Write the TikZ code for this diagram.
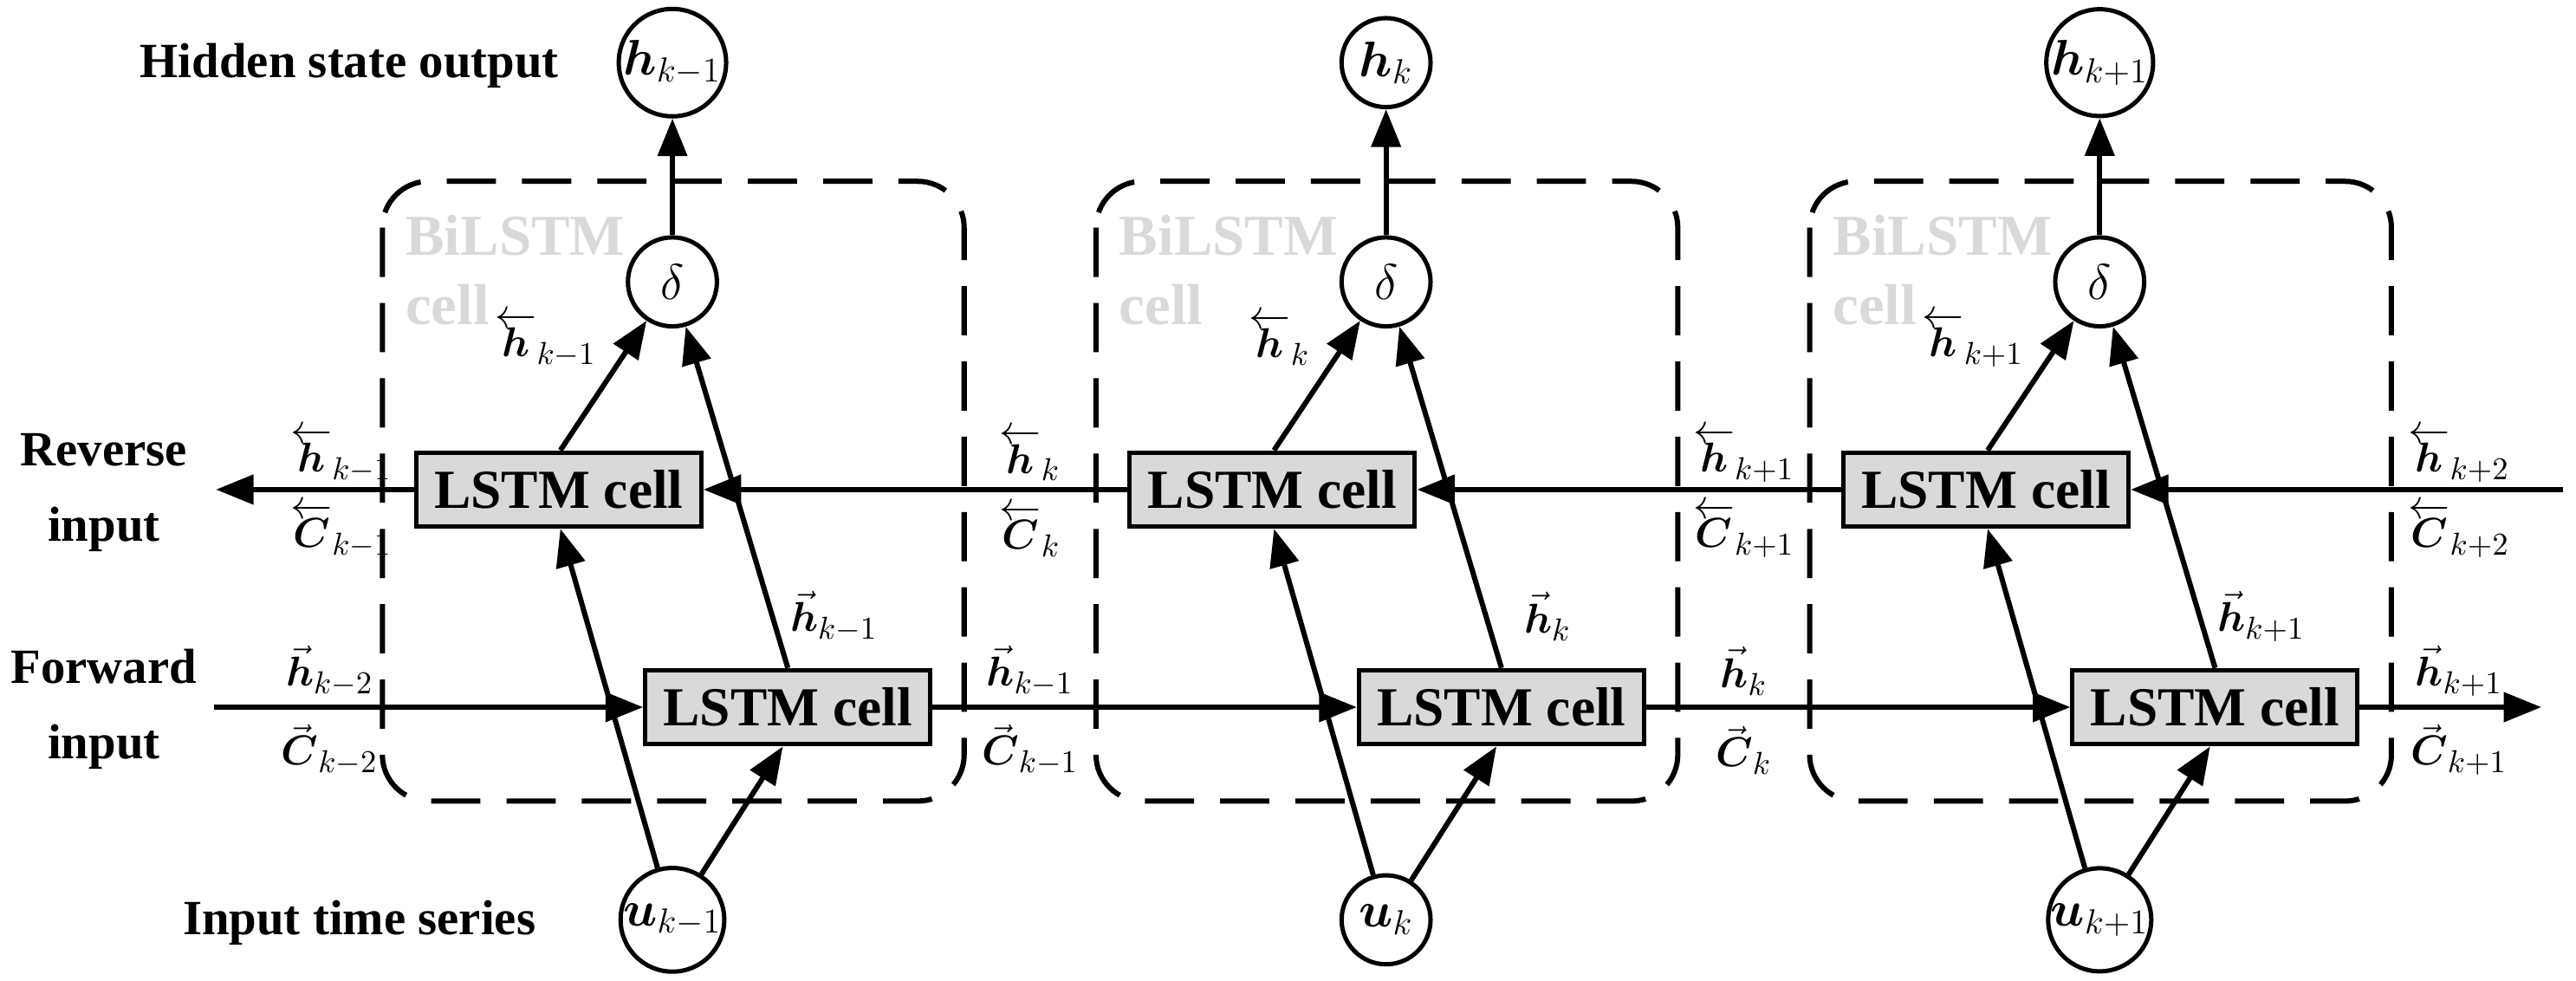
\documentclass[tikz,border=0pt]{standalone}
\usepackage{amsmath}
\usepackage{fontspec}
\setmainfont{Liberation Serif}
\usetikzlibrary{positioning,arrows.meta}
\definecolor{cellgray}{RGB}{217,217,217}
\newcommand{\hl}[1]{\overleftarrow{\boldsymbol{h}}_{#1}}
\newcommand{\hr}[1]{\vec{\boldsymbol{h}}_{#1}}
\newcommand{\cl}[1]{\overleftarrow{\boldsymbol{C}}_{#1}}
\newcommand{\cri}[1]{\vec{\boldsymbol{C}}_{#1}}

\begin{document}
\begin{tikzpicture}[x=0.02cm,y=-0.02cm,
	font=\fontsize{15}{17}\selectfont\bfseries,
	lstm/.style={draw, fill=cellgray, line width=1.5pt, minimum width=3.46cm, minimum height=0.9cm, font=\fontsize{19}{21}\selectfont\bfseries},
	var/.style={draw, circle, line width=1.5pt, minimum size=1.08cm, inner sep=0pt, fill=white, font=\fontsize{17}{19}\selectfont},
	link/.style={line width=1.8pt, -{Triangle[length=13pt,width=10pt]}},
	bibox/.style={draw, line width=1.8pt, dash pattern=on 17pt off 9pt, rounded corners=16pt},
	lab/.style={font=\fontsize{15}{17}\selectfont},
	caption/.style={align=center, font=\fontsize{17}{26}\selectfont\bfseries}]
  \useasboundingbox (0,0) rectangle (1563,595);

  % three BiLSTM cells
  \foreach \i/\s in {0/{k-1},1/{k},2/{k+1}} {
    \begin{scope}[xshift=\i*433*0.02cm]
      \draw[bibox] (232,110) rectangle (585,486);
      \node[text=cellgray, anchor=north west, align=left, font=\fontsize{20}{24}\selectfont\bfseries] at (240,124) {BiLSTM\\cell};
      \node[lstm] (rev\i) at (339,297) {LSTM cell};
      \node[lstm] (fwd\i) at (478,429) {LSTM cell};
      \node[var] (del\i) at (408,171) {$\delta$};
      \node[var] (out\i) at (408,38) {$\boldsymbol{h}_{\s}$};
      \node[var] (in\i) at (408,558) {$\boldsymbol{u}_{\s}$};
      \draw[link] (in\i) -- (rev\i.south -| 340,0);
      \draw[link] (in\i) -- (fwd\i.south -| 475,0);
      \draw[link] (rev\i.north -| 340,0) -- (del\i);
      \draw[link] (fwd\i.north -| 478,0) -- (del\i);
      \draw[link] (del\i) -- (out\i);
      \node[lab, anchor=east] at (368,206) {$\hl{\s}$};
      \node[lab] at (506,374) {$\hr{\s}$};
    \end{scope}
  }

  % horizontal chains
  \coordinate (fstart) at (130,429);
  \coordinate (fend) at (1542,429);
  \coordinate (rstart) at (1555,297);
  \coordinate (rend) at (131,297);
  \draw[link] (fstart) -- (fwd0.west);
  \draw[link] (fwd0.east) -- (fwd1.west);
  \draw[link] (fwd1.east) -- (fwd2.west);
  \draw[link] (fwd2.east) -- (fend);
  \draw[link] (rstart) -- (rev2.east);
  \draw[link] (rev2.west) -- (rev1.east);
  \draw[link] (rev1.west) -- (rev0.east);
  \draw[link] (rev0.west) -- (rend);

  % state labels
  \node[lab] at (207,276) {$\hl{k-1}$};
  \node[lab] at (207,322) {$\cl{k-1}$};
  \node[lab] at (200,407) {$\hr{k-2}$};
  \node[lab] at (200,455) {$\cri{k-2}$};
  \foreach \x/\a/\b in {625/{k}/{k-1},1058/{k+1}/{k}} {
    \node[lab] at (\x,276) {$\hl{\a}$};
    \node[lab] at (\x,322) {$\cl{\a}$};
    \node[lab] at (\x,407) {$\hr{\b}$};
    \node[lab] at (\x,455) {$\cri{\b}$};
  }
  \node[lab] at (1492,276) {$\hl{k+2}$};
  \node[lab] at (1492,322) {$\cl{k+2}$};
  \node[lab] at (1492,407) {$\hr{k+1}$};
  \node[lab] at (1492,455) {$\cri{k+1}$};

  % captions
  \node[caption] at (212,40) {Hidden state output};
  \node[caption] at (63,299) {Reverse\\input};
  \node[caption] at (63,430) {Forward\\input};
  \node[caption] at (218,560) {Input time series};
\end{tikzpicture}
\end{document}
